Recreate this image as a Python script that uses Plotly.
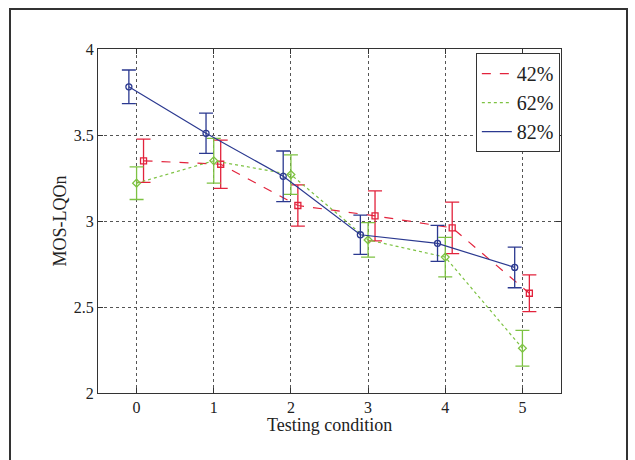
import plotly.graph_objects as go

conditions = [0, 1, 2, 3, 4, 5]
series_names = ["42%", "62%", "82%"]

mos_42 = [3.35, 3.33, 3.09, 3.03, 2.96, 2.58]
err_42 = [0.126, 0.140, 0.120, 0.145, 0.150, 0.107]

mos_62 = [3.22, 3.35, 3.27, 2.89, 2.79, 2.26]
err_62 = [0.095, 0.130, 0.115, 0.100, 0.115, 0.104]

mos_82 = [3.78, 3.51, 3.26, 2.92, 2.87, 2.73]
err_82 = [0.098, 0.117, 0.147, 0.114, 0.105, 0.118]

y_ticks = [2, 2.5, 3, 3.5, 4]
x_ticks = [0, 1, 2, 3, 4, 5]

offsets = {"42%": 0.09, "62%": 0.0, "82%": -0.1}
styles = {
    "42%": dict(color="#e2233c", dash="dash", symbol="square-open"),
    "62%": dict(color="#7dc242", dash="dot", symbol="diamond-open"),
    "82%": dict(color="#2b3990", dash="solid", symbol="circle-open"),
}
data = {"42%": (mos_42, err_42), "62%": (mos_62, err_62), "82%": (mos_82, err_82)}

font_family = "Times New Roman, Liberation Serif, serif"

fig = go.Figure()
for name in series_names:
    vals, errs = data[name]
    st = styles[name]
    fig.add_trace(go.Scatter(
        x=[c + offsets[name] for c in conditions],
        y=vals,
        name=name,
        mode="lines+markers",
        showlegend=False,
        line=dict(color=st["color"], dash=st["dash"], width=1.2),
        marker=dict(symbol=st["symbol"], size=6, color=st["color"],
                    line=dict(color=st["color"], width=1.3)),
        error_y=dict(type="data", array=errs, visible=True,
                     color=st["color"], thickness=1.3, width=7),
    ))
# legend entries (line samples only, like the original)
for name in series_names:
    st = styles[name]
    fig.add_trace(go.Scatter(
        x=[None], y=[None], name=name, mode="lines",
        line=dict(color=st["color"], dash=st["dash"], width=1.2),
    ))

fig.update_layout(
    width=635, height=460,
    margin=dict(l=98, r=74, t=49, b=67),
    paper_bgcolor="white",
    plot_bgcolor="white",
    font=dict(family=font_family, color="#222222", size=16),
    showlegend=True,
    legend=dict(
        x=0.9975, y=0.988, xanchor="right", yanchor="top",
        bgcolor="white", bordercolor="#333333", borderwidth=1,
        font=dict(family=font_family, size=20, color="#222222"),
        itemwidth=30, tracegroupgap=0,
    ),
    xaxis=dict(
        range=[-0.5, 5.5], tickvals=x_ticks, ticktext=[str(v) for v in x_ticks],
        showgrid=True, gridcolor="#555555", griddash="dot", gridwidth=0.8,
        zeroline=False, showline=True, linecolor="#333333", linewidth=1.2,
        mirror="ticks", ticks="inside", ticklen=5, tickcolor="#333333",
        tickfont=dict(family=font_family, size=16),
    ),
    yaxis=dict(
        range=[2, 4], tickvals=y_ticks, ticktext=["2", "2.5", "3", "3.5", "4"],
        showgrid=True, gridcolor="#555555", griddash="dot", gridwidth=0.8,
        zeroline=False, showline=True, linecolor="#333333", linewidth=1.2,
        mirror="ticks", ticks="inside", ticklen=5, tickcolor="#333333",
        title=dict(text="MOS-LQOn", font=dict(family=font_family, size=18), standoff=2),
        tickfont=dict(family=font_family, size=16),
    ),
    annotations=[dict(
        text="Testing condition", xref="paper", yref="paper",
        x=0.5, y=(393 - 425) / 344, xanchor="center", yanchor="middle",
        showarrow=False, font=dict(family=font_family, size=18, color="#222222"),
    )],
    shapes=[dict(
        type="rect", xref="paper", yref="paper",
        x0=(10 - 98) / 463, x1=(627 - 98) / 463,
        y0=(393 - 470) / 344, y1=(393 - 9) / 344,
        line=dict(color="#333333", width=2), fillcolor="rgba(0,0,0,0)",
        layer="below",
    )],
)

fig.write_html("out.html")
